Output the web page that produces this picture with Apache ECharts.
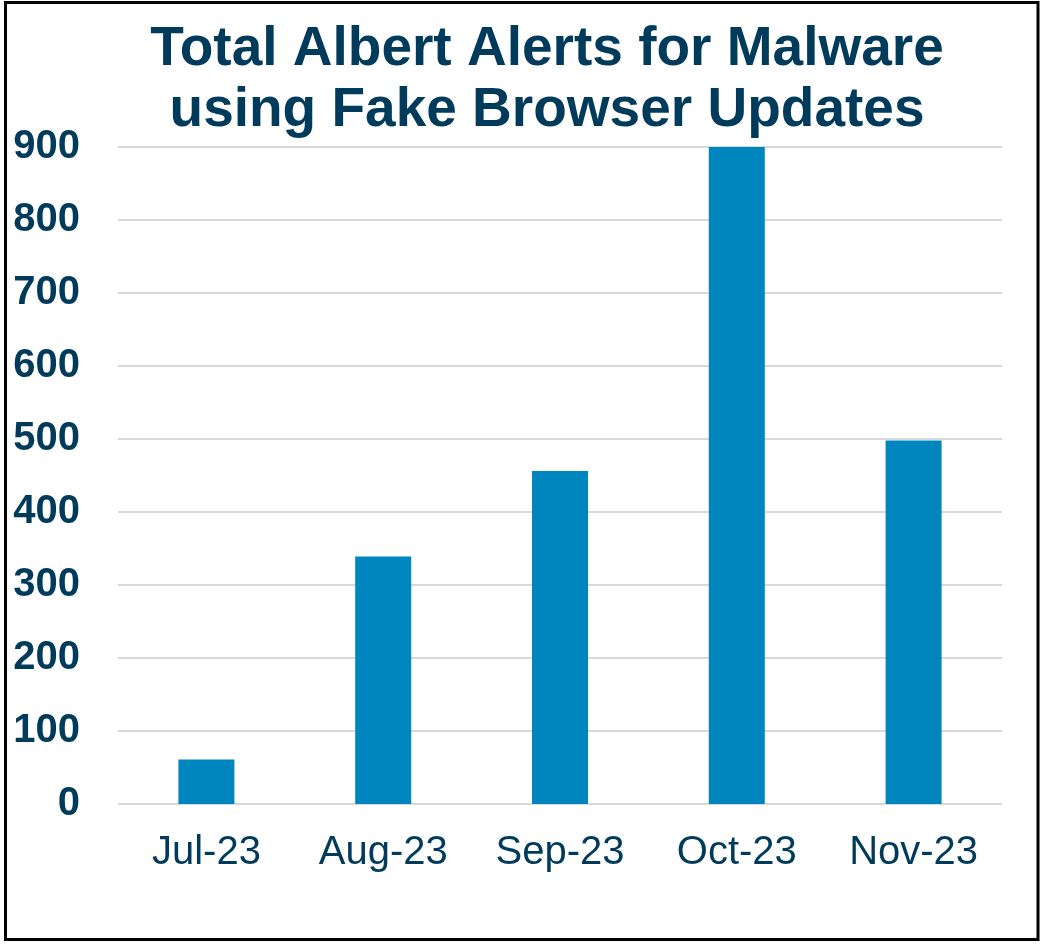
<!DOCTYPE html>
<html>
<head>
<meta charset="utf-8">
<script src="https://cdn.jsdelivr.net/npm/echarts@6/dist/echarts.min.js"></script>
<style>
html,body{margin:0;padding:0;background:#fff;}
#chart{width:1045px;height:948px;}
</style>
</head>
<body>
<div id="chart"></div>
<script>
const titleText = "Total Albert Alerts for Malware\nusing Fake Browser Updates";
const categories = ["Jul-23", "Aug-23", "Sep-23", "Oct-23", "Nov-23"];
const alerts = [61, 339, 456, 900, 498];
const yMin = 0, yMax = 900, yStep = 100;

const navy = "#003B5C";
const chart = echarts.init(document.getElementById('chart'));
chart.setOption({
  animation: false,
  backgroundColor: '#ffffff',
  title: {
    text: titleText,
    left: 542,
    top: 14,
    textAlign: 'center',
    textStyle: {
      fontFamily: 'Liberation Sans, Arial, sans-serif',
      fontWeight: 'bold',
      fontSize: 55,
      lineHeight: 61,
      color: navy
    }
  },
  graphic: [{
    type: 'rect',
    shape: {x: 5.5, y: 2.5, width: 1032.5, height: 937},
    style: {fill: 'none', stroke: '#000', lineWidth: 3},
    silent: true
  }],
  grid: {left: 118, right: 43, top: 147, bottom: 144, containLabel: false},
  xAxis: {
    type: 'category',
    data: categories,
    axisLine: {show: false},
    axisTick: {show: false},
    axisLabel: {
      margin: 29,
      fontFamily: 'Liberation Sans, Arial, sans-serif',
      fontSize: 40,
      color: navy
    }
  },
  yAxis: {
    type: 'value',
    min: yMin, max: yMax, interval: yStep,
    axisLine: {show: false},
    axisTick: {show: false},
    splitLine: {lineStyle: {color: '#D9D9D9', width: 2}},
    axisLabel: {
      margin: 38,
      fontFamily: 'Liberation Sans, Arial, sans-serif',
      fontSize: 40,
      fontWeight: 'bold',
      color: navy
    }
  },
  series: [{
    type: 'bar',
    data: alerts,
    barWidth: 56,
    itemStyle: {color: '#0086BF'}
  }]
});
</script>
</body>
</html>
